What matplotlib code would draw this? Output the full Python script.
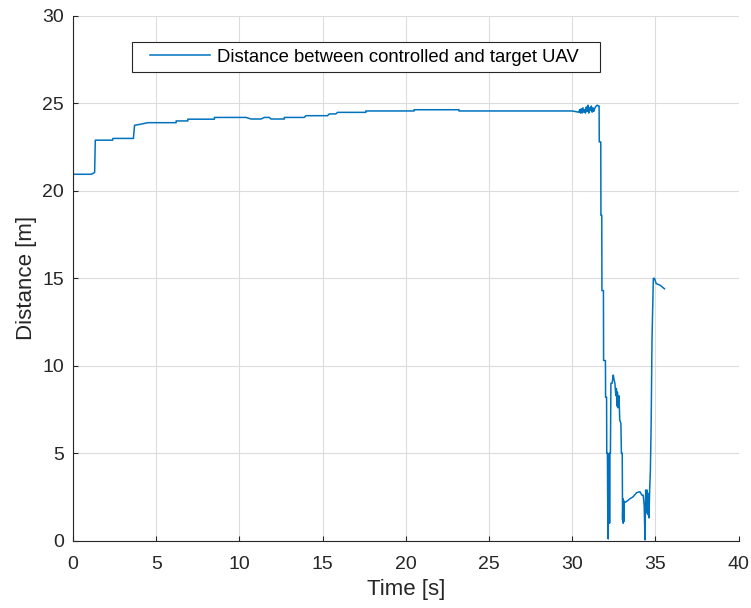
import matplotlib
matplotlib.use("Agg")
import matplotlib.pyplot as plt
from matplotlib.patches import Rectangle

plt.rcParams['font.family'] = ['Liberation Sans', 'DejaVu Sans']

# time [s] and distance [m]
time = [0.0, 1.1, 1.3, 1.34, 2.38, 2.4, 3.63, 3.7, 4.0, 4.5, 6.2, 6.2, 6.9, 6.9, 8.5, 8.5,
        10.4, 10.7, 11.3, 11.5, 11.8, 11.9, 12.7, 12.7, 13.9, 14.0, 15.3, 15.4, 15.8, 15.9,
        17.6, 17.6, 20.5, 20.5, 23.2, 23.2, 30.0, 30.4,
        30.45, 30.5, 30.55, 30.6, 30.65, 30.7, 30.75, 30.8, 30.85, 30.9, 30.95, 31.0,
        31.05, 31.1, 31.15, 31.2, 31.25, 31.3, 31.35, 31.4, 31.5, 31.6,
        31.62, 31.63, 31.72, 31.73, 31.78, 31.79, 31.88, 31.89, 32.0, 32.01, 32.07, 32.08,
        32.12, 32.14, 32.15, 32.17, 32.19, 32.21, 32.23, 32.25, 32.27, 32.30, 32.33, 32.40,
        32.47, 32.52, 32.57, 32.60, 32.63, 32.66, 32.69, 32.72, 32.75, 32.80, 32.83, 32.86,
        32.93, 32.96, 33.01, 33.03, 33.05, 33.07, 33.09, 33.11, 33.13, 33.2, 33.35, 33.47,
        33.65, 33.88, 34.07, 34.2, 34.27, 34.33, 34.38, 34.42, 34.46, 34.50, 34.54, 34.58,
        34.62, 34.66, 34.70, 34.75, 34.80, 34.88, 34.95, 35.05, 35.3, 35.55]
distance = [20.95, 20.95, 21.05, 22.9, 22.9, 23.0, 23.0, 23.75, 23.8, 23.9, 23.9, 24.0, 24.0, 24.1, 24.1, 24.2,
            24.2, 24.11, 24.11, 24.2, 24.2, 24.11, 24.11, 24.2, 24.2, 24.3, 24.3, 24.4, 24.4, 24.49,
            24.49, 24.57, 24.57, 24.64, 24.64, 24.57, 24.57, 24.5,
            24.65, 24.45, 24.7, 24.45, 24.75, 24.5, 24.65, 24.45, 24.8, 24.55, 24.9, 24.45,
            24.75, 24.6, 24.85, 24.5, 24.75, 24.55, 24.7, 24.8, 24.9, 24.85,
            24.85, 22.8, 22.8, 18.6, 18.6, 14.3, 14.3, 10.3, 10.3, 8.2, 8.2, 5.0,
            5.0, 1.5, 4.8, 0.1, 4.9, 1.2, 5.0, 1.0, 5.0, 5.0, 9.0, 9.0,
            9.47, 9.2, 9.0, 8.6, 8.3, 8.7, 7.7, 8.5, 7.6, 8.3, 7.9, 6.9,
            6.7, 5.0, 5.0, 1.2, 2.4, 1.0, 2.3, 1.1, 2.2, 2.2, 2.3, 2.4,
            2.5, 2.75, 2.8, 2.6, 2.6, 2.0, 0.05, 2.9, 1.6, 2.9, 1.5, 2.7,
            1.3, 3.0, 3.9, 6.8, 11.5, 15.0, 15.0, 14.7, 14.6, 14.4]

fig = plt.figure(figsize=(7.51, 6.08), dpi=100)
ax = fig.add_axes([0.0972, 0.1107, 0.8862, 0.863])

ax.plot(time, distance, color='#0072BD', lw=1.1,
        label='Distance between controlled and target UAV')

ax.set_xlim(0, 40)
ax.set_ylim(0, 30)
ax.set_xticks(range(0, 41, 5))
ax.set_yticks(range(0, 31, 5))
ax.grid(True, color='#dcdcdc', lw=0.8)
ax.set_axisbelow(True)
ax.spines['top'].set_visible(False)
ax.spines['right'].set_visible(False)
for s in ['left', 'bottom']:
    ax.spines[s].set_color('#262626')
    ax.spines[s].set_linewidth(0.8)
ax.tick_params(direction='in', length=3.6, labelsize=14, colors='#262626')
ax.tick_params(axis='x', pad=11)
ax.tick_params(axis='y', pad=6.5)

ax.set_xlabel('Time [s]', fontsize=16, color='#262626', labelpad=4)
ax.set_ylabel('Distance [m]', fontsize=16, color='#262626', labelpad=4)

# MATLAB-like legend box, drawn by hand so the padding matches
ax.add_patch(Rectangle((0.088, 0.893), 0.704, 0.058, transform=ax.transAxes,
                       facecolor='white', edgecolor='#262626', lw=0.8, zorder=4))
ax.legend(loc='center left', bbox_to_anchor=(0.1157, 0.9213), borderaxespad=0,
          borderpad=0, frameon=False, fontsize=13.3,
          handlelength=3.24, handletextpad=0.38).set_zorder(5)

fig.savefig('out.png', dpi=100)
